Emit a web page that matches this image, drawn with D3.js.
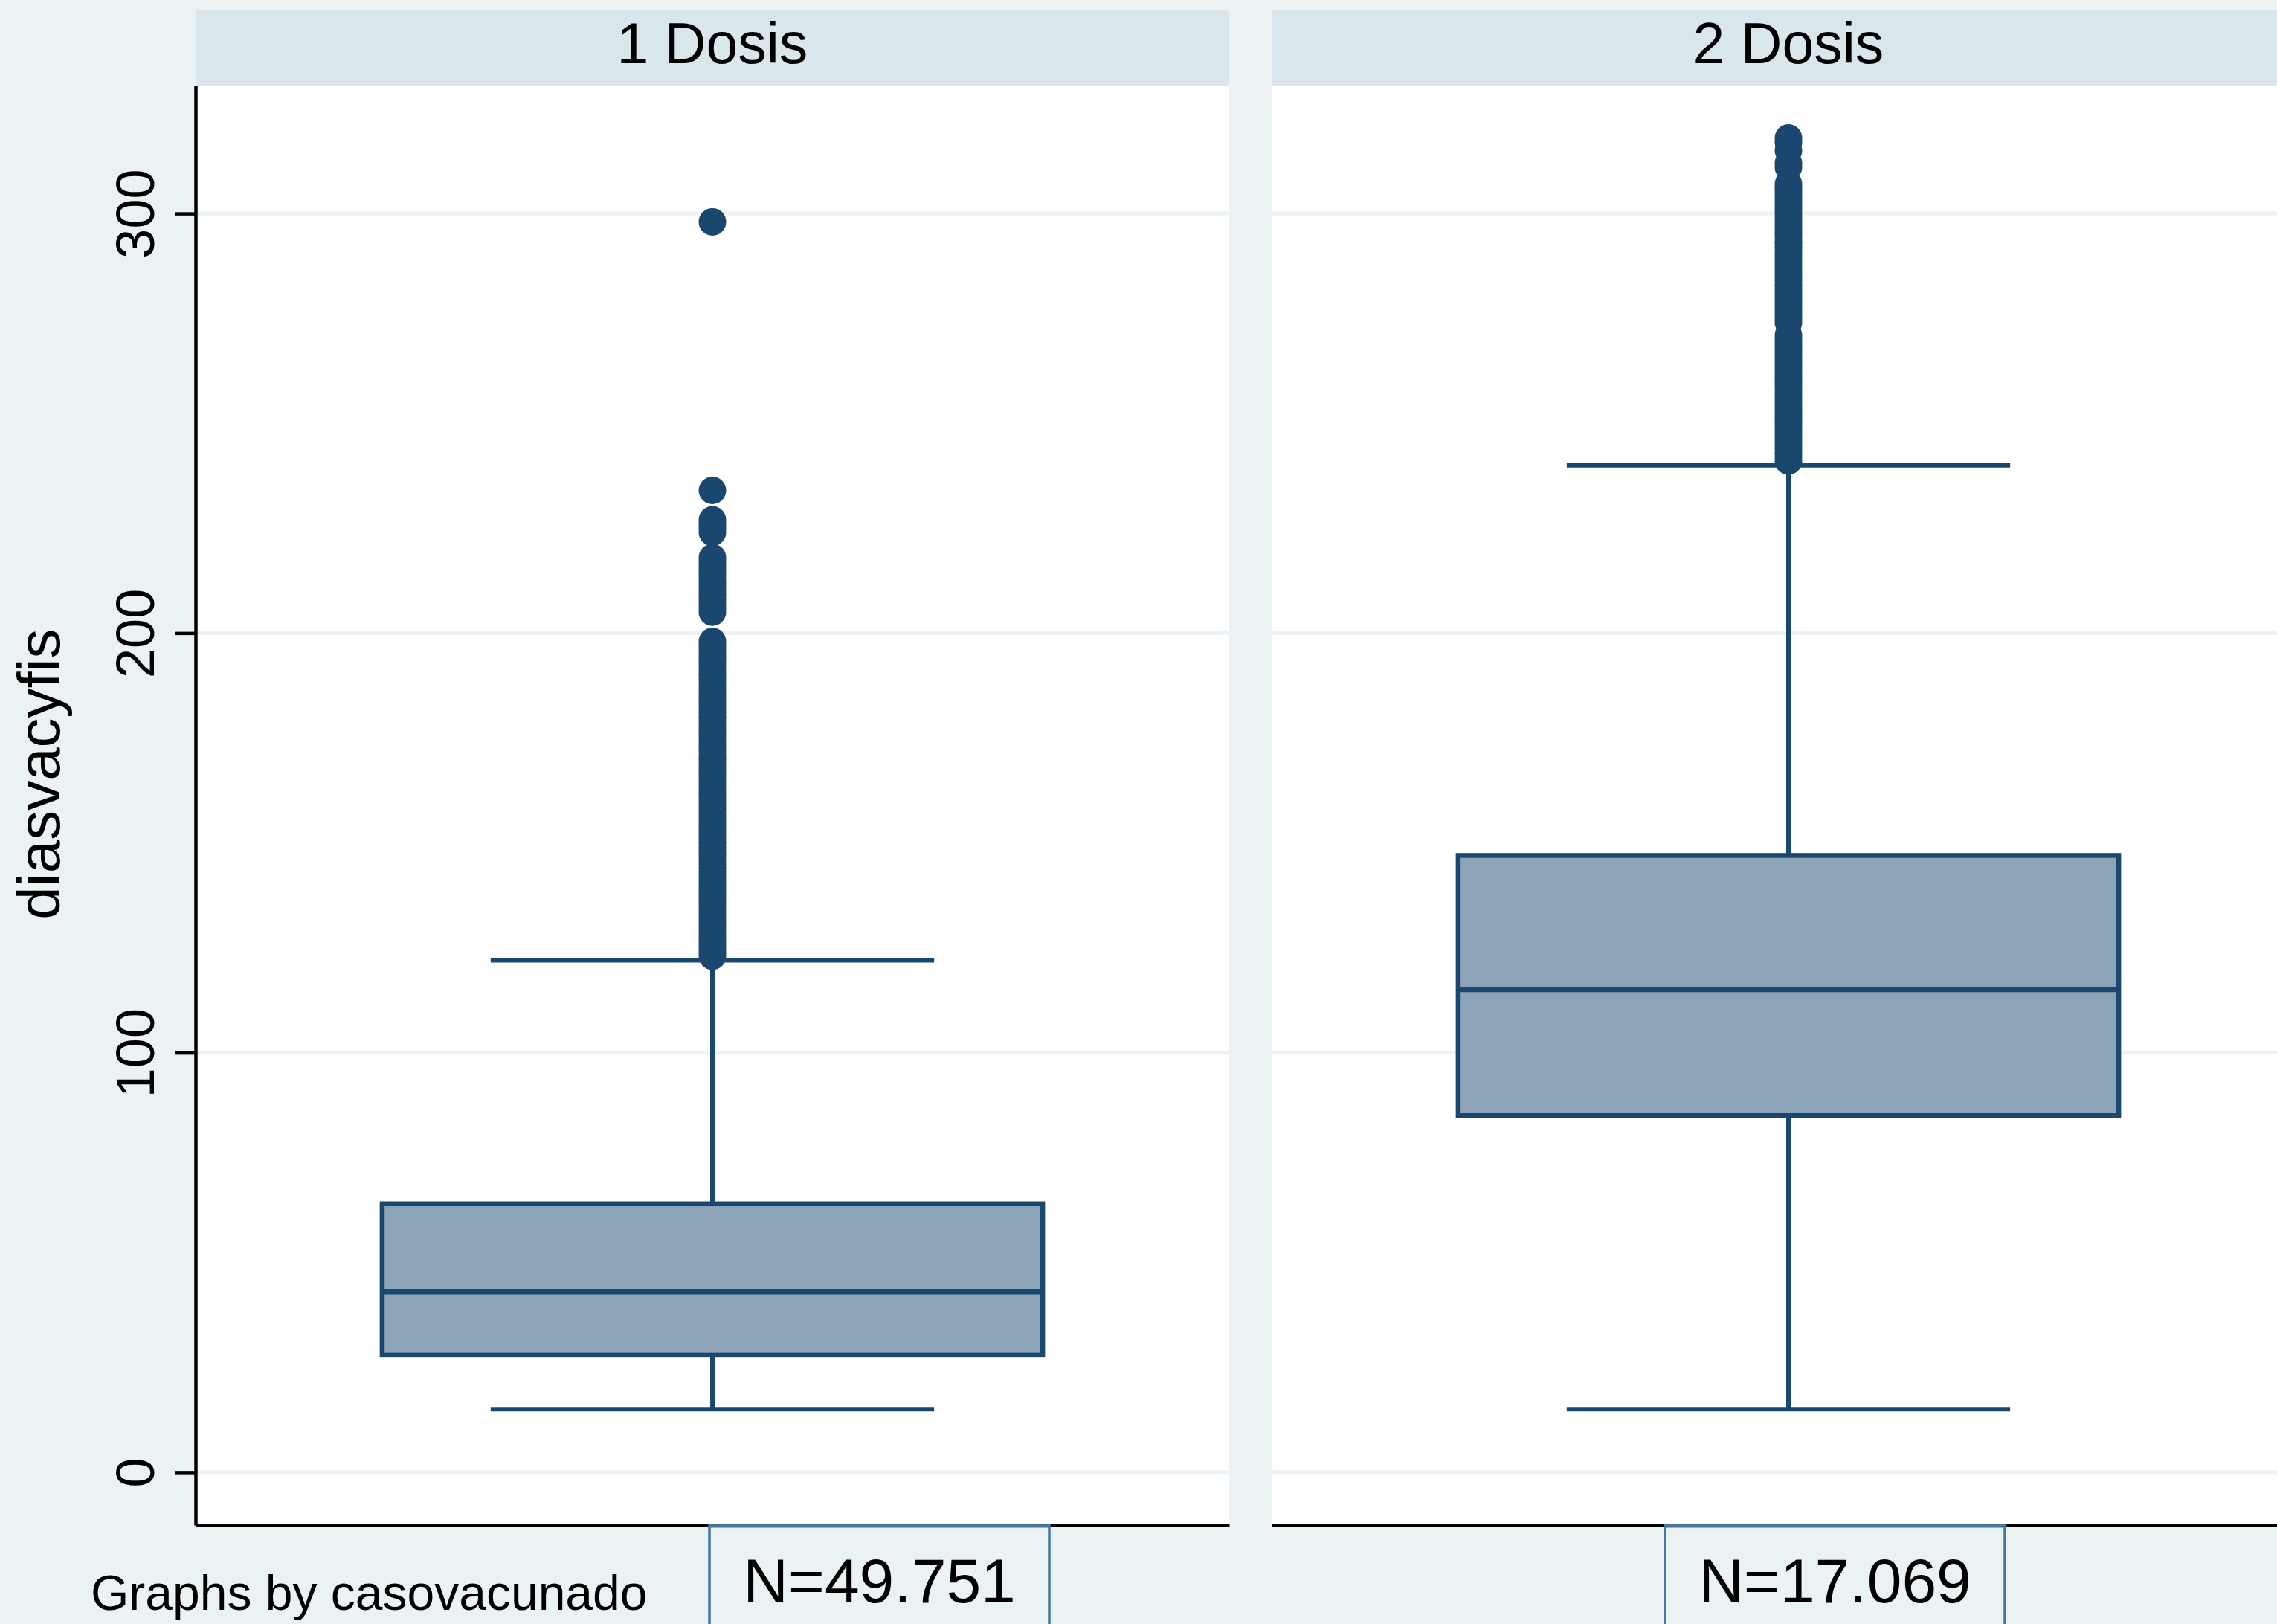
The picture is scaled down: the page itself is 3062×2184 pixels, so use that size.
<!DOCTYPE html>
<html>
<head>
<meta charset="utf-8">
<script src="https://cdn.jsdelivr.net/npm/d3@7/dist/d3.min.js"></script>
<style>
  html, body { margin: 0; padding: 0; background: #EAF2F3; }
  svg { display: block; }
  text { font-family: "Liberation Sans", Arial, Helvetica, sans-serif; fill: #000; }
</style>
</head>
<body>
<div id="chart"></div>
<script>
// data
var groups = ['1 Dosis', '2 Dosis'];
var lowAdj = [15, 15];
var q1 = [28, 85];
var median = [43, 115];
var q3 = [64, 147];
var highAdj = [122, 240];
var counts = ['N=49.751', 'N=17.069'];
var yTicks = [0, 100, 200, 300];

var outliers1 = [123, 124, 125, 126, 127, 128, 129, 130, 131, 132, 133, 134, 135, 136, 137, 138,
    139, 140, 141, 142, 143, 144, 145, 146, 147, 148, 149, 150, 151, 152, 153, 154, 155, 156, 157,
    158, 159, 160, 161, 162, 163, 164, 165, 166, 167, 168, 169, 170, 171, 172, 173, 174, 175, 176,
    177, 178, 179, 180, 181, 182, 183, 184, 185, 186, 187, 188, 189, 190, 191, 192, 193, 194, 195,
    196, 197, 198, 205, 206, 207, 208, 209, 210, 211, 212, 213, 214, 215, 216, 217, 218,
    224, 225, 226, 227, 234, 298];
var outliers2 = [241, 242, 243, 244, 245, 246, 247, 248, 249, 250, 251, 252, 253, 254, 255, 256,
    257, 258, 259, 260, 261, 262, 263, 264, 265, 266, 267, 268, 269, 270, 271, 274, 275, 276, 277,
    278, 279, 280, 281, 282, 283, 284, 285, 286, 287, 288, 289, 290, 291, 292, 293, 294, 295, 296,
    297, 298, 299, 300, 301, 302, 303, 304, 305, 306, 307, 311, 312, 315, 317, 318];
var outliers = [outliers1, outliers2];

var width = 3062,
    height = 2184;

var panelLeft = [263, 1710],
    panelWidth = 1390,
    stripTop = 13,
    plotTop = 115,
    plotBottom = 2051;

var navy = '#1A476F',
    boxFill = '#8DA3B8',
    bg = '#EAF2F3',
    stripFill = '#D9E6EB';

var svg = d3.select('#chart').append('svg')
    .attr('width', width)
    .attr('height', height)
    .attr('viewBox', '0 0 ' + width + ' ' + height);

svg.append('rect').attr('width', width).attr('height', height).attr('fill', bg);

var y = d3.scaleLinear().domain([-12.6, 330.5]).range([plotBottom, plotTop]);

groups.forEach(function (name, i) {
    var x0 = panelLeft[i];
    var x = d3.scaleLinear().domain([0, 1]).range([x0, x0 + panelWidth]);
    var g = svg.append('g').attr('class', 'panel');

    // strip
    g.append('rect')
        .attr('x', x0).attr('y', stripTop)
        .attr('width', panelWidth).attr('height', plotTop - stripTop)
        .attr('fill', stripFill);
    g.append('text')
        .attr('x', x(0.5)).attr('y', 85)
        .attr('text-anchor', 'middle')
        .attr('font-size', 77)
        .text(name);

    // plot region
    g.append('rect')
        .attr('x', x0).attr('y', plotTop)
        .attr('width', panelWidth).attr('height', plotBottom - plotTop)
        .attr('fill', '#fff');

    g.selectAll('.grid').data(yTicks).enter().append('line')
        .attr('class', 'grid')
        .attr('x1', x0).attr('x2', x0 + panelWidth)
        .attr('y1', function (d) { return y(d); })
        .attr('y2', function (d) { return y(d); })
        .attr('stroke', bg).attr('stroke-width', 5);

    // whiskers
    var cx = x(0.5);
    g.append('line')
        .attr('x1', cx).attr('x2', cx)
        .attr('y1', y(q3[i])).attr('y2', y(highAdj[i]))
        .attr('stroke', navy).attr('stroke-width', 6);
    g.append('line')
        .attr('x1', cx).attr('x2', cx)
        .attr('y1', y(q1[i])).attr('y2', y(lowAdj[i]))
        .attr('stroke', navy).attr('stroke-width', 6);

    [lowAdj[i], highAdj[i]].forEach(function (v) {
        g.append('line')
            .attr('x1', x(0.5 - 0.2145)).attr('x2', x(0.5 + 0.2145))
            .attr('y1', y(v)).attr('y2', y(v))
            .attr('stroke', navy).attr('stroke-width', 6);
    });

    // box
    g.append('rect')
        .attr('x', x(0.5 - 0.3195))
        .attr('y', y(q3[i]))
        .attr('width', x(0.5 + 0.3195) - x(0.5 - 0.3195))
        .attr('height', y(q1[i]) - y(q3[i]))
        .attr('fill', boxFill)
        .attr('stroke', navy).attr('stroke-width', 6.5);
    g.append('line')
        .attr('x1', x(0.5 - 0.3195)).attr('x2', x(0.5 + 0.3195))
        .attr('y1', y(median[i])).attr('y2', y(median[i]))
        .attr('stroke', navy).attr('stroke-width', 6.5);

    // outside values
    g.selectAll('.outlier').data(outliers[i]).enter().append('circle')
        .attr('class', 'outlier')
        .attr('cx', cx)
        .attr('cy', function (d) { return y(d); })
        .attr('r', 18.5)
        .attr('fill', navy);

    // bottom axis line
    var xAxis = d3.axisBottom(x).tickValues([]).tickSizeOuter(0);
    g.append('g')
        .attr('transform', 'translate(0,' + plotBottom + ')')
        .call(xAxis)
        .select('.domain').attr('stroke', '#000').attr('stroke-width', 4.5);
});

// y axis on first panel
var yAxis = d3.axisLeft(y).tickValues(yTicks).tickSize(28).tickSizeOuter(0).tickPadding(0);
var ya = svg.append('g')
    .attr('transform', 'translate(' + panelLeft[0] + ',0)')
    .call(yAxis);
ya.select('.domain').attr('stroke', '#000').attr('stroke-width', 4.5);
ya.selectAll('.tick line').attr('stroke', '#000').attr('stroke-width', 4.5);
ya.selectAll('.tick text')
    .attr('x', null).attr('dy', null)
    .attr('transform', 'translate(-56,0) rotate(-90)')
    .attr('text-anchor', 'middle')
    .attr('font-size', 72)
    .attr('font-family', '"Liberation Sans", Arial, sans-serif')
    .attr('fill', '#000');

svg.append('text')
    .attr('transform', 'translate(80,1041) rotate(-90)')
    .attr('text-anchor', 'middle')
    .attr('font-size', 80)
    .text('diasvacyfis');

// N notes
var noteLeft = [954, 2239],
    noteWidth = 457;
counts.forEach(function (t, i) {
    svg.append('rect')
        .attr('x', noteLeft[i]).attr('y', plotBottom)
        .attr('width', noteWidth).attr('height', 200)
        .attr('fill', bg)
        .attr('stroke', '#4A74A0').attr('stroke-width', 3.5);
    svg.append('line')
        .attr('x1', noteLeft[i]).attr('x2', noteLeft[i] + noteWidth)
        .attr('y1', plotBottom + 1).attr('y2', plotBottom + 1)
        .attr('stroke', '#4A74A0').attr('stroke-width', 5);
    svg.append('text')
        .attr('x', noteLeft[i] + noteWidth / 2).attr('y', 2155)
        .attr('text-anchor', 'middle')
        .attr('font-size', 84)
        .text(t);
});

svg.append('text')
    .attr('x', 122).attr('y', 2165)
    .attr('font-size', 66)
    .text('Graphs by casovacunado');
</script>
</body>
</html>
